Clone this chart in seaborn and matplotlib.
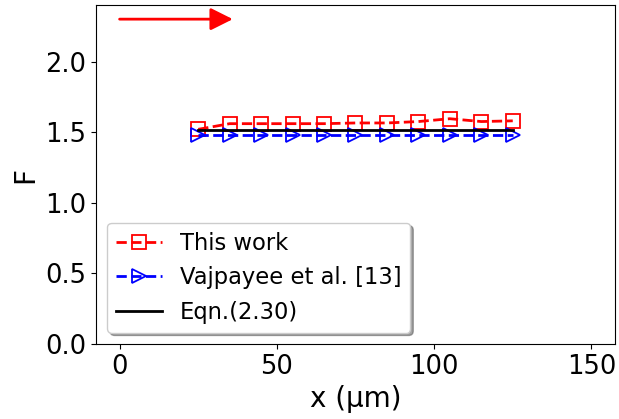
import matplotlib
matplotlib.use("Agg")
import matplotlib.pyplot as plt
import seaborn as sns
import numpy as np

# Positions along the channel (µm)
x_pos = [25, 35, 45, 55, 65, 75, 85, 95, 105, 115, 125]
# Factor F from the present simulations
f_this_work = [1.52, 1.56, 1.56, 1.56, 1.56, 1.565, 1.565, 1.575, 1.595, 1.575, 1.58]
# Factor F reported by Vajpayee et al.
f_vajpayee = [1.48, 1.48, 1.48, 1.48, 1.48, 1.48, 1.48, 1.48, 1.48, 1.48, 1.48]
# Analytical value from Eqn. (2.30)
f_eqn = [1.515, 1.515]
x_eqn = [25, 125]

fig = plt.figure(figsize=(6.19, 4.19), dpi=100)
ax = fig.add_axes([0.1551, 0.179, 0.8384, 0.809])

sns.lineplot(x=x_pos, y=f_this_work, ax=ax, color="red", linestyle="--",
             marker="s", markersize=10, mfc="none", mec="red", mew=1.3,
             linewidth=2, label="This work")
sns.lineplot(x=x_pos, y=f_vajpayee, ax=ax, color="blue", linestyle="--",
             marker=">", markersize=10, mfc="none", mec="blue", mew=1.3,
             linewidth=2, label="Vajpayee et al. [13]")
sns.lineplot(x=x_eqn, y=f_eqn, ax=ax, color="black", linestyle="-",
             linewidth=2, label="Eqn.(2.30)")

# Flow direction arrow
ax.annotate("", xy=(36, 2.30), xytext=(0, 2.30),
            arrowprops=dict(arrowstyle="-|>", color="red", lw=2,
                            mutation_scale=34, shrinkA=0, shrinkB=0))

ax.set_xlim(-7.5, 157.5)
ax.set_ylim(0, 2.4)
ax.set_xticks([0, 50, 100, 150])
ax.set_yticks([0.0, 0.5, 1.0, 1.5, 2.0])
ax.set_yticklabels(["0.0", "0.5", "1.0", "1.5", "2.0"])
ax.tick_params(labelsize=18.5)
ax.set_xlabel("x (µm)", fontsize=20)
ax.set_ylabel("F", fontsize=20)

ax.legend(loc="lower left", fontsize=16.3, shadow=True, fancybox=True,
          borderaxespad=0.5, handlelength=2.0, labelspacing=0.5)

fig.savefig("out.png", dpi=100)
